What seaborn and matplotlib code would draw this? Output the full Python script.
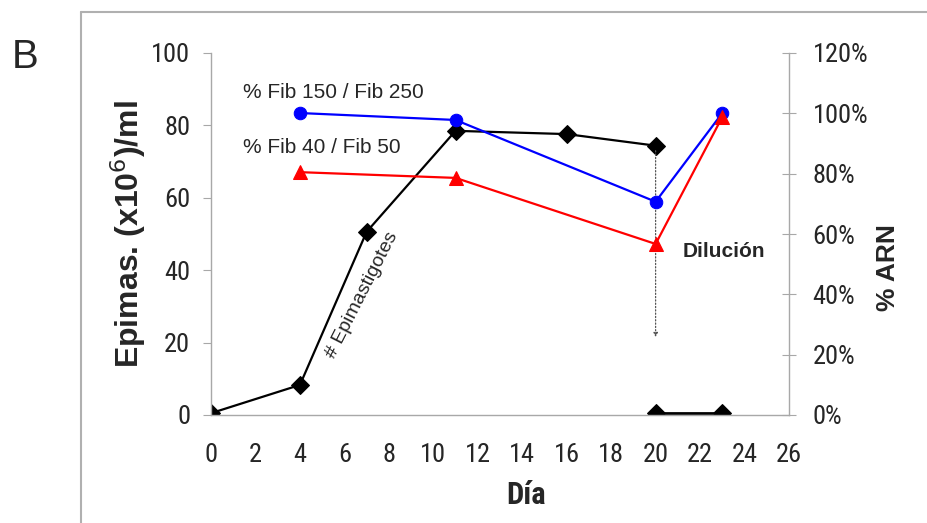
import os
import matplotlib
matplotlib.use('Agg')
import matplotlib.pyplot as plt
import matplotlib.font_manager as fm
import seaborn as sns
import pandas as pd

# datos
dias_epi = [0, 4, 7, 11, 16, 20]
epi = [0.5, 8.3, 50.6, 78.5, 77.6, 74.4]
dias_dil = [20, 23]
epi_dil = [0.5, 0.5]

dias_arn = [4, 11, 20, 23]
fib150_250 = [100.1, 97.8, 70.7, 100.1]
fib40_50 = [80.5, 78.6, 56.7, 98.8]

xticks = list(range(0, 27, 2))
yticks_izq = [0, 20, 40, 60, 80, 100]
yticks_der = [0, 20, 40, 60, 80, 100, 120]

sns.set_style('white')
plt.rcParams['font.family'] = ['Liberation Sans', 'DejaVu Sans']


def buscar_fuente(preferidas):
    """devuelve la primera fuente instalada cuyo archivo coincide"""
    archivos = {os.path.basename(f.fname).lower(): f.fname for f in fm.fontManager.ttflist}
    for nombre in preferidas:
        if nombre.lower() in archivos:
            return archivos[nombre.lower()]
    return None


narrow_file = buscar_fuente(['LiberationSansNarrow-Regular.ttf', 'RobotoCondensed-Regular.ttf',
                             'NotoSans-Condensed.ttf', 'OpenSans_Condensed-Regular.ttf',
                             'DejaVuSansCondensed.ttf'])
narrow_bold_file = buscar_fuente(['LiberationSansNarrow-Bold.ttf', 'RobotoCondensed-Bold.ttf',
                                  'NotoSans-CondensedBold.ttf', 'OpenSans_Condensed-Bold.ttf',
                                  'DejaVuSansCondensed-Bold.ttf'])


def fp(size, bold=False):
    fname = narrow_bold_file if bold else narrow_file
    if fname:
        return fm.FontProperties(fname=fname, size=size)
    return fm.FontProperties(family='Liberation Sans', size=size * 0.88,
                             weight='bold' if bold else 'normal')


fig = plt.figure(figsize=(9.27, 5.23), dpi=100)
ax = fig.add_axes([211 / 927, 1 - 415 / 523, 578 / 927, 362 / 523])
ax2 = ax.twinx()

df_epi = pd.DataFrame({'dia': dias_epi, 'val': epi})
df_dil = pd.DataFrame({'dia': dias_dil, 'val': epi_dil})
df_arn = pd.DataFrame({'dia': dias_arn, 'a': fib150_250, 'b': fib40_50})

sns.lineplot(data=df_epi, x='dia', y='val', ax=ax, color='black', marker='D',
             markersize=9, linewidth=1.6, markeredgecolor='black')
sns.lineplot(data=df_dil, x='dia', y='val', ax=ax, color='black', marker='D',
             markersize=9, linewidth=2.0, markeredgecolor='black')
sns.lineplot(data=df_arn, x='dia', y='a', ax=ax2, color='blue', marker='o',
             markersize=9, linewidth=1.6, markeredgecolor='blue')
sns.lineplot(data=df_arn, x='dia', y='b', ax=ax2, color='red', marker='^',
             markersize=10, linewidth=1.6, markeredgecolor='red')

# línea de dilución
ax.annotate('', xy=(20, 21.5), xytext=(20, 73),
            arrowprops=dict(arrowstyle='-|>', linestyle=':', color='#555555',
                            lw=0.9, mutation_scale=6, shrinkA=0, shrinkB=0))

ax.set_xlim(0, 26)
ax.set_ylim(0, 100)
ax2.set_ylim(0, 120)
ax.set_xticks(xticks)
ax.set_yticks(yticks_izq)
ax2.set_yticks(yticks_der)
ax2.set_yticklabels([f'{v}%' for v in yticks_der])

gris = '#a8a8a8'
for a in (ax, ax2):
    for s in a.spines.values():
        s.set_color(gris)
        s.set_linewidth(1.0)
    a.spines['top'].set_visible(False)
ax.spines['right'].set_visible(False)
ax2.spines['left'].set_visible(False)
ax2.spines['bottom'].set_visible(False)

ax.tick_params(axis='y', direction='out', length=6, color=gris, pad=9)
ax.tick_params(axis='x', direction='out', length=6, color=gris, pad=14)
ax2.tick_params(axis='y', direction='inout', length=10, color=gris, pad=12)
for lab in ax.get_xticklabels() + ax.get_yticklabels() + ax2.get_yticklabels():
    lab.set_fontproperties(fp(19))

ax.set_xlabel('Día', fontproperties=fp(22, bold=True))
ax.xaxis.set_label_coords((526 - 211) / 578, -(480 - 415) / 362)
ax.set_ylabel('Epimas. (x10$^6$)/ml', fontsize=23, fontweight='bold')
ax.yaxis.set_label_coords((148 - 211) / 578, (415 - 234) / 362)
ax2.set_ylabel('% ARN', fontsize=19, fontweight='bold')
ax2.yaxis.set_label_coords((876 - 211) / 578, (415 - 268) / 362)

ax.text(1.45, 89.2, '% Fib 150 / Fib 250', fontsize=15, va='center', ha='left')
ax.text(1.45, 73.8, '% Fib 40 / Fib 50', fontsize=15, va='center', ha='left')
ax.text(6.8, 33, '# Epimastigotes', fontsize=14, rotation=63, va='center', ha='center')
ax.text(21.2, 45.3, 'Dilución', fontsize=15, fontweight='bold', va='center', ha='left')

fig.text(12 / 927, 1 - 57 / 523, 'B', fontsize=29, va='center', ha='left')

# marco gris alrededor del panel
fig.add_artist(plt.Line2D([81 / 927, 1], [1 - 12 / 523, 1 - 12 / 523],
                          transform=fig.transFigure, color='#b0b0b0', lw=1.5))
fig.add_artist(plt.Line2D([81 / 927, 81 / 927], [0, 1 - 12 / 523],
                          transform=fig.transFigure, color='#b0b0b0', lw=1.5))

fig.savefig('out.png', dpi=100)
